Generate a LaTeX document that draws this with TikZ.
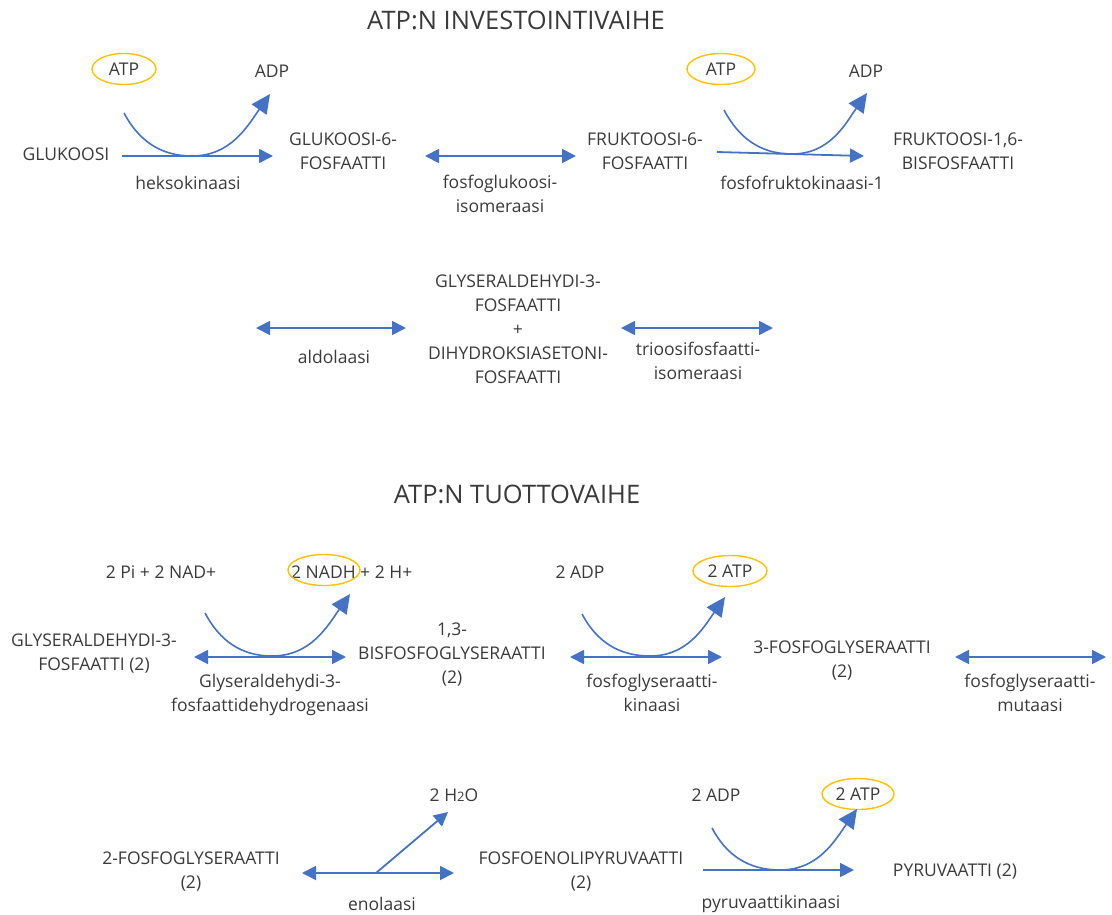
\documentclass[tikz,border=0pt]{standalone}
\usepackage{fontspec}
\setmainfont{Open Sans}
\usetikzlibrary{arrows.meta,shapes.geometric}
\definecolor{arrblue}{HTML}{4472C4}
\definecolor{ringorange}{HTML}{FFC000}
\definecolor{txtgray}{HTML}{3A3A3A}
\tikzset{
  lbl/.style={text=txtgray,font=\fontsize{17.5}{24}\selectfont,align=center,inner sep=0pt},
  ttl/.style={text=txtgray,font=\fontsize{25.5}{30}\selectfont,inner sep=0pt},
  ring/.style={draw=ringorange,ellipse,line width=1.4pt,minimum width=#1,minimum height=31pt,inner sep=0pt},
  fwd/.style={draw=arrblue,line width=1.8pt,-{Triangle[length=14pt,width=14pt]}},
  both/.style={draw=arrblue,line width=1.8pt,{Triangle[length=14pt,width=14pt]}-{Triangle[length=14pt,width=14pt]}},
  curvearr/.style={draw=arrblue,line width=1.6pt,-{Triangle[length=19pt,width=18pt]}},
}
\begin{document}
\begin{tikzpicture}[x=1pt,y=-1pt]
\path[use as bounding box] (0,0) rectangle (1112,914);
% titles
\node[ttl] (t1) at (516,20) {ATP:N INVESTOINTIVAIHE};
\node[ttl] (t2) at (517,494) {ATP:N TUOTTOVAIHE};

% ===== row 1 =====
\node[lbl] (glu) at (66,154) {GLUKOOSI};
\node[lbl] (atp1) at (124,69) {ATP};
\node[ring=64pt] (atp1r) at (124,69) {};
\node[lbl] (adp1) at (272,71) {ADP};
\coordinate (h1s) at (122,156); \coordinate (h1e) at (273,156);
\draw[fwd] (h1s) -- (h1e);
\coordinate (c1s) at (124,113); \coordinate (c1m) at (192,156); \coordinate (c1e) at (270,94);
\draw[curvearr] (c1s) to[out=-62,in=180] (c1m) to[out=0,in=-125] (c1e);
\node[lbl] (hek) at (188,183) {heksokinaasi};
\node[lbl] (g6p) at (343,151) {GLUKOOSI-6-\\FOSFAATTI};
\coordinate (d1s) at (425,156); \coordinate (d1e) at (576,156);
\draw[both] (d1s) -- (d1e);
\node[lbl] (pgi) at (500,194) {fosfoglukoosi-\\isomeraasi};
\node[lbl] (f6p) at (645,151) {FRUKTOOSI-6-\\FOSFAATTI};
\node[lbl] (atp2) at (721,69) {ATP};
\node[ring=68pt] (atp2r) at (721,69) {};
\node[lbl] (adp2) at (866,71) {ADP};
\coordinate (h2s) at (717,152); \coordinate (h2e) at (864,156);
\draw[fwd] (h2s) -- (h2e);
\coordinate (c2s) at (724,110); \coordinate (c2m) at (792,154); \coordinate (c2e) at (867,93);
\draw[curvearr] (c2s) to[out=-62,in=180] (c2m) to[out=0,in=-125] (c2e);
\node[lbl] (pfk) at (802,183) {fosfofruktokinaasi-1};
\node[lbl] (f16) at (958,151) {FRUKTOOSI-1,6-\\BISFOSFAATTI};

% ===== row 2 =====
\coordinate (d2s) at (256,328); \coordinate (d2e) at (406,328);
\draw[both] (d2s) -- (d2e);
\node[lbl] (ald) at (334,357) {aldolaasi};
\node[lbl] (g3p) at (518,329) {GLYSERALDEHYDI-3-\\FOSFAATTI\\+\\DIHYDROKSIASETONI-\\FOSFAATTI};
\coordinate (d3s) at (621,328); \coordinate (d3e) at (773,328);
\draw[both] (d3s) -- (d3e);
\node[lbl] (tpi) at (698,361) {trioosifosfaatti-\\isomeraasi};

% ===== row 3 =====
\node[lbl] (pin) at (161,572) {2 Pi + 2 NAD+};
\node[lbl,anchor=west] (nadh) at (291,572) {2 NADH + 2 H+};
\node[ring=72pt] (nadhr) at (324,570) {};
\node[lbl] (g3p2) at (94,654) {GLYSERALDEHYDI-3-\\FOSFAATTI (2)};
\coordinate (d4s) at (194,657); \coordinate (d4e) at (346,657);
\draw[both] (d4s) -- (d4e);
\coordinate (c3s) at (205,613); \coordinate (c3m) at (272,656); \coordinate (c3e) at (350,594);
\draw[curvearr] (c3s) to[out=-62,in=180] (c3m) to[out=0,in=-125] (c3e);
\node[lbl] (gapdh) at (270,695) {Glyseraldehydi-3-\\fosfaattidehydrogenaasi};
\node[lbl] (bpg) at (452,655) {1,3-\\BISFOSFOGLYSERAATTI\\(2)};
\node[lbl] (adp3) at (580,572) {2 ADP};
\node[lbl] (atp3) at (730,571) {2 ATP};
\node[ring=74pt] (atp3r) at (730,571) {};
\coordinate (d5s) at (570,657); \coordinate (d5e) at (722,657);
\draw[both] (d5s) -- (d5e);
\coordinate (c4s) at (582,614); \coordinate (c4m) at (650,656); \coordinate (c4e) at (725,597);
\draw[curvearr] (c4s) to[out=-62,in=180] (c4m) to[out=0,in=-125] (c4e);
\node[lbl] (pgk) at (652,693) {fosfoglyseraatti-\\kinaasi};
\node[lbl] (pg3) at (842,661) {3-FOSFOGLYSERAATTI\\(2)};
\coordinate (d6s) at (955,657); \coordinate (d6e) at (1106,657);
\draw[both] (d6s) -- (d6e);
\node[lbl] (pgm) at (1030,693) {fosfoglyseraatti-\\mutaasi};

% ===== row 4 =====
\node[lbl] (pg2) at (191,872) {2-FOSFOGLYSERAATTI\\(2)};
\coordinate (d7s) at (302,873); \coordinate (d7e) at (454,873);
\draw[both] (d7s) -- (d7e);
\coordinate (br) at (376,873); \coordinate (bre) at (448,812);
\draw[fwd] (br) -- (bre);
\node[lbl] (h2o) at (454,795) {2 H{\fontsize{13}{14}\selectfont 2}O};
\node[lbl] (eno) at (382,904) {enolaasi};
\node[lbl] (pep) at (581,872) {FOSFOENOLIPYRUVAATTI\\(2)};
\node[lbl] (adp4) at (716,795) {2 ADP};
\node[lbl] (atp4) at (858,794) {2 ATP};
\node[ring=72pt] (atp4r) at (858,794) {};
\coordinate (h3s) at (703,870); \coordinate (h3e) at (854,870);
\draw[fwd] (h3s) -- (h3e);
\coordinate (c5s) at (712,828); \coordinate (c5m) at (780,870); \coordinate (c5e) at (857,809);
\draw[curvearr] (c5s) to[out=-62,in=180] (c5m) to[out=0,in=-125] (c5e);
\node[lbl] (pk) at (771,904) {pyruvaattikinaasi};
\node[lbl] (pyr) at (955,872) {PYRUVAATTI (2)};
\end{tikzpicture}
\end{document}
